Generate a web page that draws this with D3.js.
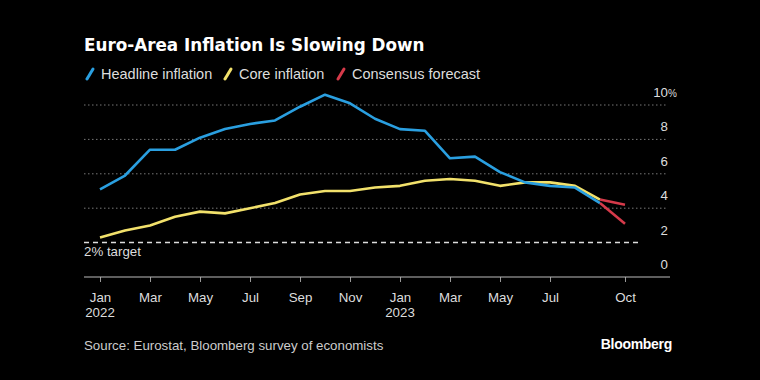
<!DOCTYPE html>
<html><head><meta charset="utf-8">
<script src="https://cdn.jsdelivr.net/npm/d3@7"></script>
<style>html,body{margin:0;padding:0;background:#000;}svg{display:block;}</style>
</head><body>
<svg id="c" width="760" height="380"></svg>
<script>
const months = ["Jan 2022","Feb 2022","Mar 2022","Apr 2022","May 2022","Jun 2022","Jul 2022","Aug 2022","Sep 2022","Oct 2022","Nov 2022","Dec 2022",
  "Jan 2023","Feb 2023","Mar 2023","Apr 2023","May 2023","Jun 2023","Jul 2023","Aug 2023","Sep 2023","Oct 2023"];
const headline = [5.1,5.9,7.4,7.4,8.1,8.6,8.9,9.1,9.9,10.6,10.1,9.2,8.6,8.5,6.9,7.0,6.1,5.5,5.3,5.2,4.3];
const core = [2.3,2.7,3.0,3.5,3.8,3.7,4.0,4.3,4.8,5.0,5.0,5.2,5.3,5.6,5.7,5.6,5.3,5.5,5.5,5.3,4.5];
const forecastHeadline = [4.3,3.1];   // Sep 2023 -> Oct 2023
const forecastCore = [4.5,4.2];       // Sep 2023 -> Oct 2023
const forecastStart = 20;
const yTicks = [0,2,4,6,8,10];
const xTickIdx = [0,2,4,6,8,10,12,14,16,18,21];
const xTickLabels = ["Jan","Mar","May","Jul","Sep","Nov","Jan","Mar","May","Jul","Oct"];
const yearLabels = {0:"2022",12:"2023"};
const target = 2;

const svg = d3.select("#c");
const font = "'Liberation Sans', Arial, sans-serif";
const blue = "#2a9fe0", yellow = "#f2e16b", red = "#d63a4a";

const x = d3.scaleLinear().domain([0,21]).range([100,625]);
const y = d3.scaleLinear().domain([0,10]).range([277,105]);

// title
svg.append("text").attr("x",84).attr("y",51).attr("fill","#fff")
  .attr("font-family","'DejaVu Sans', sans-serif").attr("font-weight","bold").attr("font-size",16.8)
  .text("Euro-Area Inflation Is Slowing Down");

// legend
const legend = [["Headline inflation",blue,86],["Core inflation",yellow,224],["Consensus forecast",red,337]];
legend.forEach(([t,c,lx])=>{
  svg.append("line").attr("x1",lx+1).attr("y1",79).attr("x2",lx+7).attr("y2",69)
    .attr("stroke",c).attr("stroke-width",3).attr("stroke-linecap","round");
  svg.append("text").attr("x",lx+15).attr("y",79).attr("fill","#ddd")
    .attr("font-family",font).attr("font-size",14.5).text(t);
});

// gridlines
yTicks.filter(v=>v>0 && v!==target).forEach(v=>{
  svg.append("line").attr("x1",84).attr("x2",668).attr("y1",y(v)).attr("y2",y(v))
    .attr("stroke","#777").attr("stroke-width",1).attr("stroke-dasharray","1.5,2.5");
});
// target line
svg.append("line").attr("x1",84).attr("x2",640).attr("y1",y(target)).attr("y2",y(target))
  .attr("stroke","#ddd").attr("stroke-width",1.5).attr("stroke-dasharray","5,4");
svg.append("text").attr("x",84).attr("y",y(target)+13).attr("fill","#ddd")
  .attr("font-family",font).attr("font-size",13.3).text("2% target");

// y labels
yTicks.forEach(v=>{
  svg.append("text").attr("x",668).attr("y",y(v)-8).attr("fill","#ddd")
    .attr("font-family",font).attr("font-size",13.3).attr("text-anchor","end").text(v);
  if(v===10){
    svg.append("text").attr("x",668).attr("y",y(v)-8).attr("fill","#ddd")
      .attr("font-family",font).attr("font-size",10).text("%");
  }
});

// x axis
const xAxis = d3.axisBottom(x).tickValues(xTickIdx).tickSize(5)
  .tickFormat((d,i)=>xTickLabels[i]);
const gx = svg.append("g").attr("transform","translate(0,277)").call(xAxis);
gx.select(".domain").remove();
gx.append("line").attr("x1",84).attr("x2",670).attr("stroke","#bbb").attr("stroke-width",1);
gx.selectAll(".tick line").attr("stroke","#999");
gx.selectAll(".tick text").attr("fill","#ddd").attr("font-family",font).attr("font-size",13.3).attr("dy","1.25em");
Object.entries(yearLabels).forEach(([i,t])=>{
  svg.append("text").attr("x",x(+i)).attr("y",317).attr("fill","#ddd").attr("text-anchor","middle")
    .attr("font-family",font).attr("font-size",13.3).text(t);
});

// lines
const line = d3.line().x(d=>x(d[0])).y(d=>y(d[1]));
svg.append("path").datum(core.map((v,i)=>[i,v])).attr("d",line)
  .attr("fill","none").attr("stroke",yellow).attr("stroke-width",2.6).attr("stroke-linejoin","round");
svg.append("path").datum(headline.map((v,i)=>[i,v])).attr("d",line)
  .attr("fill","none").attr("stroke",blue).attr("stroke-width",2.6).attr("stroke-linejoin","round");
[forecastCore, forecastHeadline].forEach(f=>{
  svg.append("path").datum(f.map((v,i)=>[forecastStart+i,v])).attr("d",line)
    .attr("fill","none").attr("stroke",red).attr("stroke-width",2.6).attr("stroke-linejoin","round");
});

// footer
svg.append("text").attr("x",84).attr("y",350).attr("fill","#ccc")
  .attr("font-family",font).attr("font-size",13.3).text("Source: Eurostat, Bloomberg survey of economists");
svg.append("text").attr("x",672).attr("y",349).attr("fill","#fff").attr("text-anchor","end")
  .attr("font-family","'Liberation Sans', Arial, sans-serif").attr("font-weight","bold").attr("font-size",14)
  .attr("letter-spacing","-0.3").text("Bloomberg");
</script>
</body></html>
